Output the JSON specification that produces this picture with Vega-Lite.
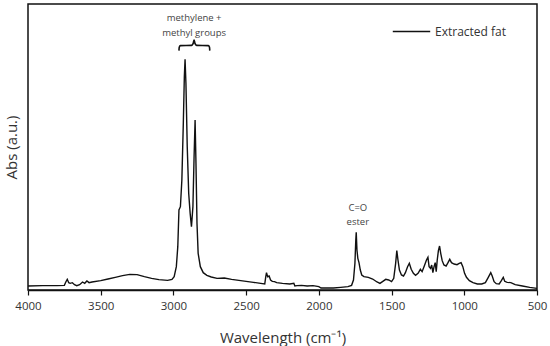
{
  "$schema": "https://vega.github.io/schema/vega-lite/v6.json",
  "width": 509,
  "height": 286,
  "autosize": "none",
  "padding": {"left": 28, "top": 4, "right": 13, "bottom": 56},
  "background": "white",
  "config": {
    "view": {"stroke": "#111", "strokeWidth": 1.5},
    "font": "Open Sans"
  },
  "datasets": {
    "spec": [
      {"wn": 4000, "abs": 12}, {"wn": 3900, "abs": 13}, {"wn": 3800, "abs": 13}, {"wn": 3750, "abs": 14},
      {"wn": 3740, "abs": 24}, {"wn": 3730, "abs": 32}, {"wn": 3720, "abs": 22}, {"wn": 3710, "abs": 20},
      {"wn": 3695, "abs": 22}, {"wn": 3680, "abs": 16}, {"wn": 3665, "abs": 13}, {"wn": 3645, "abs": 16},
      {"wn": 3625, "abs": 24}, {"wn": 3610, "abs": 20}, {"wn": 3595, "abs": 27}, {"wn": 3580, "abs": 22},
      {"wn": 3560, "abs": 24}, {"wn": 3500, "abs": 28}, {"wn": 3450, "abs": 33}, {"wn": 3400, "abs": 38},
      {"wn": 3350, "abs": 43}, {"wn": 3300, "abs": 47}, {"wn": 3250, "abs": 46}, {"wn": 3200, "abs": 40},
      {"wn": 3150, "abs": 35}, {"wn": 3100, "abs": 31}, {"wn": 3040, "abs": 29}, {"wn": 3010, "abs": 32},
      {"wn": 2995, "abs": 40}, {"wn": 2980, "abs": 70}, {"wn": 2970, "abs": 130}, {"wn": 2962, "abs": 240},
      {"wn": 2952, "abs": 250}, {"wn": 2942, "abs": 330}, {"wn": 2932, "abs": 500}, {"wn": 2925, "abs": 640},
      {"wn": 2920, "abs": 692}, {"wn": 2914, "abs": 620}, {"wn": 2905, "abs": 430}, {"wn": 2895, "abs": 290},
      {"wn": 2885, "abs": 230}, {"wn": 2876, "abs": 190}, {"wn": 2866, "abs": 250}, {"wn": 2858, "abs": 400},
      {"wn": 2851, "abs": 510}, {"wn": 2845, "abs": 380}, {"wn": 2838, "abs": 200}, {"wn": 2830, "abs": 110},
      {"wn": 2815, "abs": 70}, {"wn": 2795, "abs": 52}, {"wn": 2770, "abs": 44}, {"wn": 2740, "abs": 39},
      {"wn": 2700, "abs": 35}, {"wn": 2650, "abs": 36}, {"wn": 2600, "abs": 32}, {"wn": 2550, "abs": 29},
      {"wn": 2500, "abs": 26}, {"wn": 2450, "abs": 23}, {"wn": 2400, "abs": 20}, {"wn": 2372, "abs": 18},
      {"wn": 2365, "abs": 40}, {"wn": 2360, "abs": 52}, {"wn": 2352, "abs": 40}, {"wn": 2342, "abs": 42},
      {"wn": 2332, "abs": 30}, {"wn": 2320, "abs": 26}, {"wn": 2305, "abs": 25}, {"wn": 2290, "abs": 22},
      {"wn": 2250, "abs": 20}, {"wn": 2200, "abs": 18}, {"wn": 2172, "abs": 20}, {"wn": 2165, "abs": 12},
      {"wn": 2150, "abs": 13}, {"wn": 2120, "abs": 14}, {"wn": 2080, "abs": 12}, {"wn": 2040, "abs": 13},
      {"wn": 2000, "abs": 10}, {"wn": 1985, "abs": 6}, {"wn": 1950, "abs": 6}, {"wn": 1900, "abs": 6},
      {"wn": 1850, "abs": 8}, {"wn": 1800, "abs": 10}, {"wn": 1775, "abs": 14}, {"wn": 1762, "abs": 30},
      {"wn": 1752, "abs": 80}, {"wn": 1746, "abs": 150}, {"wn": 1743, "abs": 173}, {"wn": 1738, "abs": 120},
      {"wn": 1732, "abs": 95}, {"wn": 1724, "abs": 82}, {"wn": 1715, "abs": 60}, {"wn": 1705, "abs": 45},
      {"wn": 1690, "abs": 40}, {"wn": 1660, "abs": 38}, {"wn": 1630, "abs": 33}, {"wn": 1600, "abs": 24},
      {"wn": 1580, "abs": 20}, {"wn": 1560, "abs": 26}, {"wn": 1540, "abs": 32}, {"wn": 1520, "abs": 30},
      {"wn": 1500, "abs": 25}, {"wn": 1485, "abs": 35}, {"wn": 1472, "abs": 80}, {"wn": 1464, "abs": 118},
      {"wn": 1456, "abs": 90}, {"wn": 1446, "abs": 60}, {"wn": 1432, "abs": 45}, {"wn": 1418, "abs": 42},
      {"wn": 1405, "abs": 52}, {"wn": 1390, "abs": 70}, {"wn": 1378, "abs": 80}, {"wn": 1365, "abs": 62},
      {"wn": 1350, "abs": 50}, {"wn": 1335, "abs": 44}, {"wn": 1318, "abs": 50}, {"wn": 1302, "abs": 62},
      {"wn": 1290, "abs": 55}, {"wn": 1275, "abs": 72}, {"wn": 1260, "abs": 90}, {"wn": 1250, "abs": 98},
      {"wn": 1242, "abs": 70}, {"wn": 1232, "abs": 65}, {"wn": 1224, "abs": 75}, {"wn": 1216, "abs": 52},
      {"wn": 1208, "abs": 70}, {"wn": 1200, "abs": 82}, {"wn": 1193, "abs": 55}, {"wn": 1186, "abs": 90},
      {"wn": 1178, "abs": 118}, {"wn": 1170, "abs": 132}, {"wn": 1162, "abs": 110}, {"wn": 1152, "abs": 88},
      {"wn": 1140, "abs": 75}, {"wn": 1125, "abs": 72}, {"wn": 1112, "abs": 82}, {"wn": 1100, "abs": 92},
      {"wn": 1088, "abs": 82}, {"wn": 1070, "abs": 78}, {"wn": 1050, "abs": 76}, {"wn": 1035, "abs": 80},
      {"wn": 1022, "abs": 82}, {"wn": 1010, "abs": 70}, {"wn": 998, "abs": 50}, {"wn": 985, "abs": 38},
      {"wn": 965, "abs": 28}, {"wn": 940, "abs": 22}, {"wn": 910, "abs": 18}, {"wn": 880, "abs": 18},
      {"wn": 855, "abs": 22}, {"wn": 835, "abs": 38}, {"wn": 818, "abs": 52}, {"wn": 808, "abs": 42},
      {"wn": 795, "abs": 25}, {"wn": 780, "abs": 19}, {"wn": 760, "abs": 18}, {"wn": 745, "abs": 28},
      {"wn": 732, "abs": 38}, {"wn": 722, "abs": 26}, {"wn": 705, "abs": 23}, {"wn": 680, "abs": 22},
      {"wn": 650, "abs": 16}, {"wn": 600, "abs": 12}, {"wn": 550, "abs": 8}, {"wn": 500, "abs": 5}
    ],
    "brace": [
      {"wn": 2962, "abs": 718}, {"wn": 2960, "abs": 728}, {"wn": 2952, "abs": 733},
      {"wn": 2875, "abs": 734}, {"wn": 2864, "abs": 740}, {"wn": 2858, "abs": 750},
      {"wn": 2852, "abs": 740}, {"wn": 2841, "abs": 734},
      {"wn": 2760, "abs": 733}, {"wn": 2752, "abs": 728}, {"wn": 2750, "abs": 718}
    ],
    "notes": [
      {"wn": 2858, "abs": 815, "label": "methylene +"},
      {"wn": 2858, "abs": 771, "label": "methyl groups"},
      {"wn": 1732, "abs": 245, "label": "C=O"},
      {"wn": 1732, "abs": 203, "label": "ester"}
    ]
  },
  "layer": [
    {
      "data": {"name": "spec"},
      "mark": {"type": "line", "strokeWidth": 1.4, "interpolate": "linear"},
      "encoding": {
        "x": {
          "field": "wn", "type": "quantitative",
          "scale": {"domain": [500, 4000], "reverse": true, "nice": false, "zero": false},
          "axis": {
            "values": [500, 750, 1000, 1250, 1500, 1750, 2000, 2250, 2500, 2750, 3000, 3250, 3500, 3750, 4000],
            "labelExpr": "datum.value % 500 === 0 ? format(datum.value, 'd') : ''",
            "grid": false, "domainColor": "#111", "domainWidth": 1.5,
            "tickColor": "#111", "tickWidth": 1.2,
            "tickSize": {"condition": {"test": "datum.value % 500 === 0", "value": 5}, "value": 3},
            "labelFont": "Open Sans", "labelFontSize": 11.5, "labelColor": "#333", "labelPadding": 5,
            "labelOverlap": false, "labelFlush": false,
            "title": "Wavelength (cm⁻¹)", "titleFont": "Open Sans", "titleFontSize": 15,
            "titleFontWeight": "normal", "titleColor": "#333", "titlePadding": 19
          }
        },
        "y": {
          "field": "abs", "type": "quantitative",
          "scale": {"domain": [0, 858], "nice": false, "zero": true},
          "axis": {
            "labels": false, "ticks": false, "grid": false, "domain": false,
            "title": "Abs (a.u.)", "titleFont": "Open Sans", "titleFontSize": 15,
            "titleFontWeight": "normal", "titleColor": "#333", "titlePadding": 9
          }
        },
        "color": {
          "datum": "Extracted fat", "type": "nominal",
          "scale": {"range": ["#111"]},
          "legend": {
            "title": null, "orient": "none", "legendX": 364, "legendY": 8,
            "symbolType": "stroke", "symbolSize": 1400, "symbolStrokeWidth": 1.5,
            "labelFont": "Open Sans", "labelFontSize": 12, "labelColor": "#333", "labelOffset": 4
          }
        }
      }
    },
    {
      "data": {"name": "brace"},
      "mark": {"type": "line", "strokeWidth": 1.6, "color": "#111", "interpolate": "monotone"},
      "encoding": {
        "x": {"field": "wn", "type": "quantitative"},
        "y": {"field": "abs", "type": "quantitative"}
      }
    },
    {
      "data": {"name": "notes"},
      "mark": {"type": "text", "font": "Open Sans", "fontSize": 9.5, "color": "#444", "baseline": "middle"},
      "encoding": {
        "x": {"field": "wn", "type": "quantitative"},
        "y": {"field": "abs", "type": "quantitative"},
        "text": {"field": "label"}
      }
    }
  ]
}
